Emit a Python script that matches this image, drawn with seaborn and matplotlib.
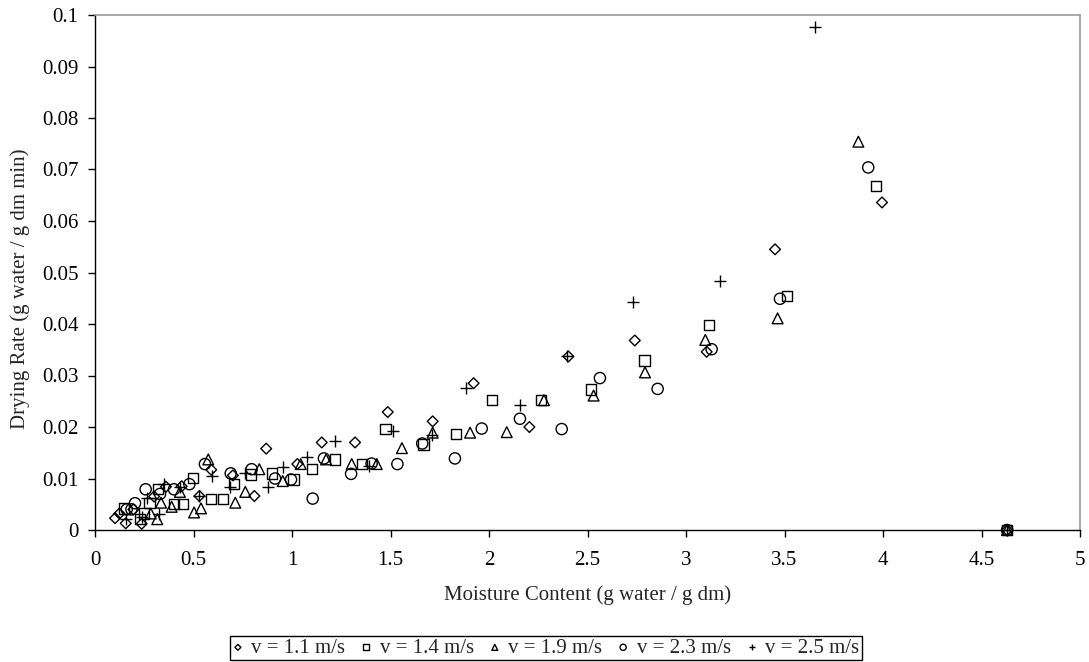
import numpy as np
import pandas as pd
import matplotlib
matplotlib.use("Agg")
import matplotlib.pyplot as plt
import seaborn as sns

# Drying rate vs moisture content for five air velocities
labels = ["v = 1.1 m/s", "v = 1.4 m/s", "v = 1.9 m/s", "v = 2.3 m/s", "v = 2.5 m/s"]

mc_11 = [4.63, 3.995, 3.452, 3.105, 2.74, 2.403, 2.205, 1.922, 1.714, 1.486, 1.32, 1.151,
         1.027, 0.869, 0.809, 0.70, 0.59, 0.53, 0.44, 0.36, 0.30, 0.237, 0.195, 0.156,
         0.124, 0.102]
dr_11 = [0.0, 0.0636, 0.0545, 0.0346, 0.0368, 0.0337, 0.0200, 0.0285, 0.0211, 0.0229, 0.0170,
         0.0170, 0.0128, 0.0158, 0.0066, 0.0106, 0.0117, 0.0066, 0.0085, 0.0084, 0.0065,
         0.0012, 0.0040, 0.0013, 0.0032, 0.0023]

mc_14 = [4.63, 3.964, 3.511, 3.117, 2.789, 2.518, 2.264, 2.017, 1.832, 1.667, 1.474, 1.354,
         1.218, 1.103, 1.007, 0.897, 0.792, 0.707, 0.648, 0.589, 0.499, 0.445, 0.401, 0.321,
         0.276, 0.249, 0.228, 0.147]
dr_14 = [0.0, 0.0668, 0.0455, 0.0398, 0.0329, 0.0273, 0.0252, 0.0252, 0.0186, 0.0166, 0.0196,
         0.0128, 0.0137, 0.0118, 0.0098, 0.0110, 0.0108, 0.0089, 0.0060, 0.0060, 0.0101,
         0.0050, 0.0050, 0.0079, 0.0052, 0.0032, 0.0021, 0.0042]

mc_19 = [4.63, 3.875, 3.465, 3.098, 2.792, 2.531, 2.279, 2.09, 1.904, 1.714, 1.558, 1.43,
         1.303, 1.173, 1.044, 0.953, 0.834, 0.763, 0.712, 0.575, 0.538, 0.503, 0.431, 0.389,
         0.335, 0.316, 0.283]
dr_19 = [0.0, 0.0754, 0.0411, 0.0369, 0.0306, 0.0261, 0.0252, 0.0190, 0.0189, 0.0189, 0.0159,
         0.0128, 0.0128, 0.0137, 0.0128, 0.0095, 0.0118, 0.0074, 0.0053, 0.0137, 0.0042,
         0.0034, 0.0074, 0.0045, 0.0053, 0.0021, 0.0032]

mc_23 = [4.63, 3.925, 3.477, 3.13, 2.856, 2.563, 2.369, 2.157, 1.963, 1.827, 1.661, 1.535,
         1.404, 1.30, 1.162, 1.105, 0.995, 0.914, 0.795, 0.689, 0.558, 0.479, 0.401, 0.33,
         0.257, 0.203, 0.161, 0.185]
dr_23 = [0.0, 0.0704, 0.0449, 0.0351, 0.0274, 0.0295, 0.0196, 0.0216, 0.0197, 0.0139, 0.0168,
         0.0128, 0.0129, 0.0109, 0.0139, 0.0061, 0.0098, 0.0100, 0.0118, 0.0110, 0.0128,
         0.0089, 0.0079, 0.0070, 0.0079, 0.0052, 0.0040, 0.0040]

mc_25 = [4.63, 3.655, 3.173, 2.731, 2.398, 2.157, 1.882, 1.709, 1.514, 1.393, 1.218, 1.078,
         0.956, 0.88, 0.761, 0.685, 0.592, 0.53, 0.431, 0.35, 0.327, 0.262, 0.237, 0.156]
dr_25 = [0.0, 0.0977, 0.0484, 0.0443, 0.0337, 0.0242, 0.0275, 0.0184, 0.0193, 0.0124, 0.0173,
         0.0142, 0.0122, 0.0083, 0.0111, 0.0083, 0.0104, 0.0066, 0.0084, 0.0090, 0.0032,
         0.0062, 0.0025, 0.0021]

x_ticks = [0, 0.5, 1, 1.5, 2, 2.5, 3, 3.5, 4, 4.5, 5]
x_tick_labels = ["0", "0.5", "1", "1.5", "2", "2.5", "3", "3.5", "4", "4.5", "5"]
y_ticks = [0, 0.01, 0.02, 0.03, 0.04, 0.05, 0.06, 0.07, 0.08, 0.09, 0.1]
y_tick_labels = ["0", "0.01", "0.02", "0.03", "0.04", "0.05", "0.06", "0.07", "0.08", "0.09", "0.1"]

sns.set_style("white")
plt.rcParams["font.family"] = ["Liberation Serif", "DejaVu Serif"]

FS = 15

series = [
    (mc_11, dr_11, "D", 30),
    (mc_14, dr_14, "s", 55),
    (mc_19, dr_19, "^", 60),
    (mc_23, dr_23, "o", 65),
    (mc_25, dr_25, "+", 70),
]

fig = plt.figure(figsize=(10.89, 6.62), dpi=100)
ax = fig.add_axes([95 / 1089, 1 - 530 / 662, 985 / 1089, 515 / 662])

for (xs, ys, marker, size), label in zip(series, labels):
    df = pd.DataFrame({"mc": xs, "dr": ys})
    if marker == "+":
        sns.scatterplot(data=df, x="mc", y="dr", marker=marker, s=size, color="black",
                        linewidth=1.0, label=label, ax=ax, zorder=3, clip_on=False)
    else:
        sns.scatterplot(data=df, x="mc", y="dr", marker=marker, s=size, facecolor="none",
                        edgecolor="black", linewidth=1.0, label=label, ax=ax, zorder=3,
                        clip_on=False)

ax.set_xlim(0, 5)
ax.set_ylim(0, 0.1)
ax.set_xticks(x_ticks)
ax.set_xticklabels(x_tick_labels)
ax.set_yticks(y_ticks)
ax.set_yticklabels(y_tick_labels)
ax.tick_params(axis="both", which="major", bottom=True, left=True, direction="out",
               length=5, width=1, color="black", labelsize=FS, labelcolor="black", pad=7)
ax.tick_params(axis="x", pad=10)
ax.grid(False)

for side in ["top", "right"]:
    ax.spines[side].set_color("#9a9a9a")
    ax.spines[side].set_linewidth(1.2)
for side in ["left", "bottom"]:
    ax.spines[side].set_color("black")
    ax.spines[side].set_linewidth(1.0)

ax.set_xlabel("Moisture Content (g water / g dm)", fontsize=FS)
ax.set_ylabel("Drying Rate (g water / g dm min)", fontsize=FS)
ax.xaxis.set_label_coords(0.5, -0.127)
ax.yaxis.set_label_coords(-0.076, 0.468)
ax.yaxis.label.set_verticalalignment("center")
ax.xaxis.label.set_verticalalignment("center")

ax.legend(loc="center", bbox_to_anchor=(546 / 1089, 14 / 662),
          bbox_transform=fig.transFigure, ncol=5, frameon=True, fancybox=False,
          edgecolor="black", framealpha=1, fontsize=FS, markerscale=0.55,
          handlelength=0.5, handletextpad=0.4, columnspacing=0.75,
          borderpad=0.12, borderaxespad=0, scatterpoints=1)
leg = ax.get_legend()
leg.get_frame().set_linewidth(1.0)

fig.savefig("out.png", dpi=100)
